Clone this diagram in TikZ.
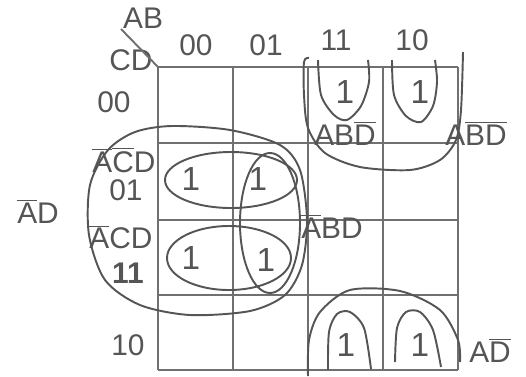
\documentclass[tikz,border=0pt]{standalone}
\usepackage{fontspec}
\setmainfont{Liberation Sans}
\usetikzlibrary{positioning}
\definecolor{pen}{HTML}{555555}
\definecolor{gridc}{HTML}{707070}
\newcommand{\ovl}[1]{$\overline{\mbox{#1}}$}

\begin{document}
\begin{tikzpicture}[x=0.02cm,y=-0.02cm,text=pen,font=\fontsize{17}{17}\selectfont,
    one/.style={font=\fontsize{19}{19}\selectfont},
    term/.style={font=\fontsize{17}{17}\selectfont,inner sep=1pt},
    loopline/.style={draw=pen,line width=1.1pt}]
    \useasboundingbox (0,0) rectangle (526,376);
    % grid
    \foreach \x in {158,233,308,383,458} \draw[gridc,line width=1.2pt] (\x,67) -- (\x,370);
    \foreach \y in {67,143,220,295,370} \draw[gridc,line width=1.2pt] (158,\y) -- (458,\y);
    \coordinate (corner) at (158,67);
    \node[font=\fontsize{17}{17}\selectfont] (ab) at (143,18) {AB};
    \node[font=\fontsize{17}{17}\selectfont] (cd) at (131,60) {CD};
    \coordinate (slash) at (121,29);
    \draw[gridc,line width=1.1pt] (slash) -- (corner);
    % column and row labels
    \node (c00) at (196,45) {00};
    \node (c01) at (266,45) {01};
    \node (c11) at (336,40) {11};
    \node (c10) at (412,40) {10};
    \node (r00) at (114,102) {00};
    \node (r01) at (126,190) {01};
    \node[font=\fontsize{17}{17}\bfseries] (r11) at (128,273) {11};
    \node (r10) at (128,345) {10};
    % the ones
    \node[one] (m4) at (345,92) {1};
    \node[one] (m8) at (420,92) {1};
    \node[one] (m1) at (191,179) {1};
    \node[one] (m5) at (258,179) {1};
    \node[one] (m3) at (191,258) {1};
    \node[one] (m7) at (266,260) {1};
    \node[one] (m14) at (346,345) {1};
    \node[one] (m10) at (420,345) {1};
    % terms
    \node[term] (tacd) at (124,160) {\ovl{A}\ovl{C}D};
    \node[term] (tacd2) at (121,237) {\ovl{A}CD};
    \node[term] (tad) at (38,211) {\ovl{A}D};
    \node[term] (tabd) at (345,133) {AB\ovl{D}};
    \node[term] (tabd2) at (476,133) {A\ovl{B}\ovl{D}};
    \node[term] (tabd3) at (332,226) {\ovl{A}BD};
    \node[term] (tad2) at (490,350) {A\ovl{D}};
    % loops, top row
    \draw[loopline] plot[smooth] coordinates {(318,60) (321,95) (334,115) (347,120) (361,106) (369,82) (368,60)};
    \draw[loopline] plot[smooth] coordinates {(392,60) (394,95) (406,116) (421,122) (433,106) (437,82) (435,60)};
    \draw[loopline] plot[smooth] coordinates {(309,58) (304,62) (304,95) (308,128) (325,153) (360,167) (410,170) (440,160) (456,140) (461,110) (463,52)};
    % loops, bottom row
    \draw[loopline] plot[smooth] coordinates {(308,376) (309,340) (320,312) (350,290) (400,291) (440,310) (458,340) (460,362)};
    \draw[loopline] plot[smooth] coordinates {(328,370) (329,332) (337,314) (350,312) (364,328) (371,369)};
    \draw[loopline] plot[smooth] coordinates {(395,362) (397,328) (406,312) (420,312) (433,330) (441,367)};
    % loops, middle
    \draw[loopline] (231,180) ellipse [x radius=66,y radius=28];
    \draw[loopline] (229,258) ellipse [x radius=62,y radius=32];
    \draw[loopline] (270,223) ellipse [x radius=30,y radius=70];
    \draw[loopline] plot[smooth cycle] coordinates {(172,126) (230,130) (280,145) (300,170) (307,220) (302,265) (285,295) (250,311) (190,315) (140,305) (105,280) (89,235) (90,185) (108,150) (135,132)};
\end{tikzpicture}
\end{document}
